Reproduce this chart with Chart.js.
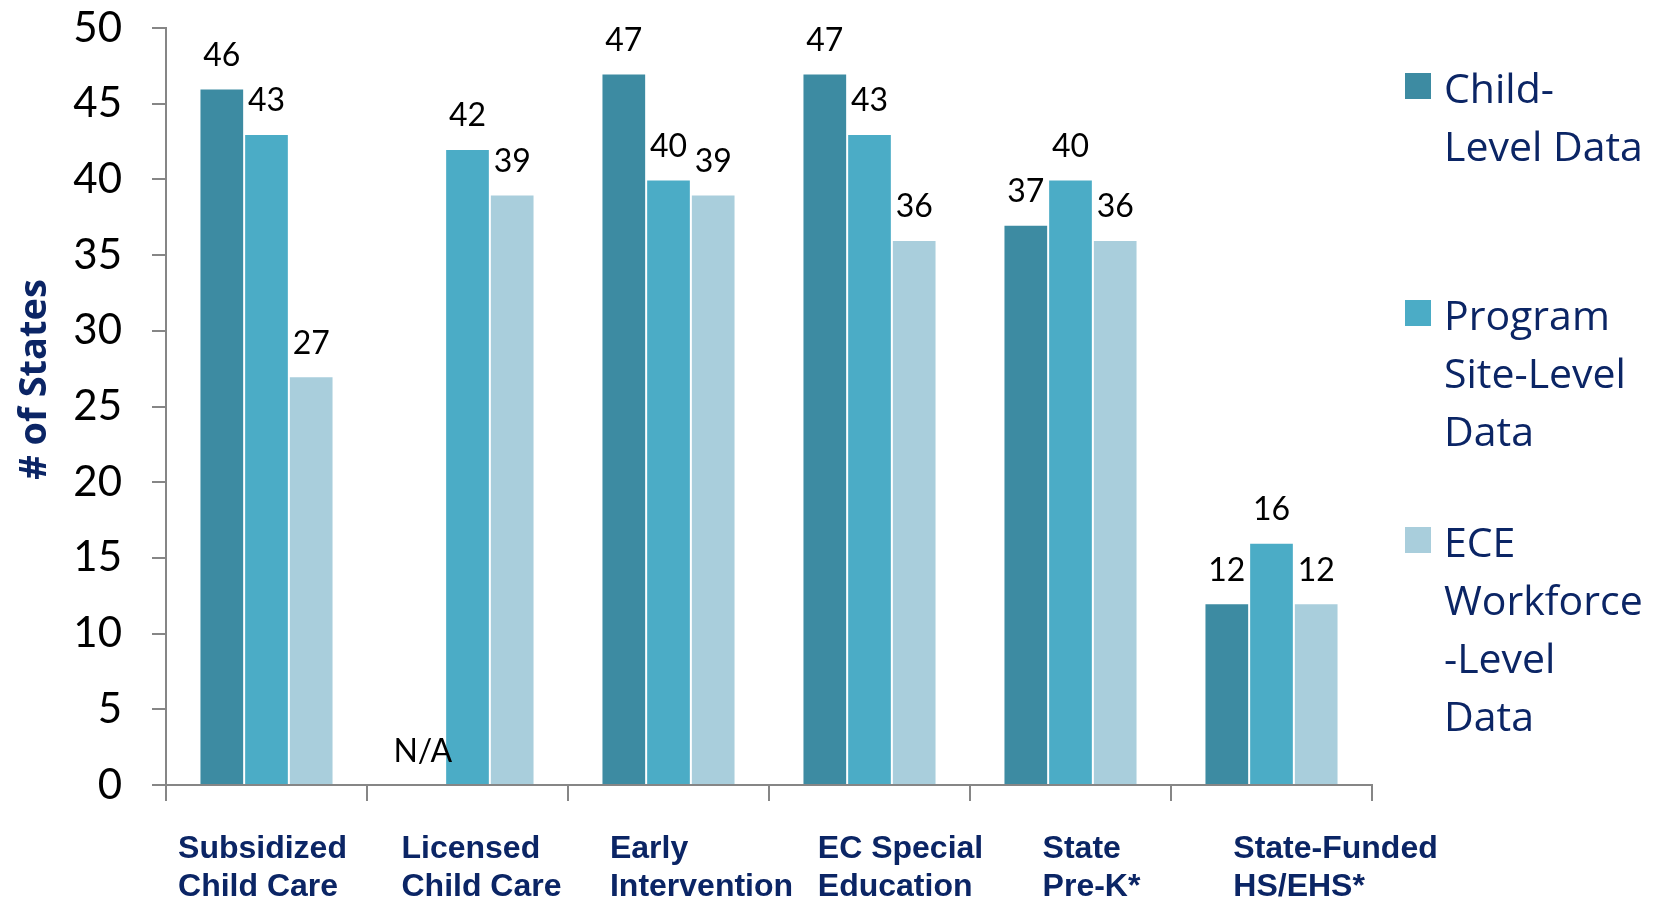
<!DOCTYPE html>
<html>
<head>
<meta charset="utf-8">
<script src="https://cdn.jsdelivr.net/npm/chart.js@4/dist/chart.umd.min.js"></script>
<style>
  body { margin: 0; background: #fff; }
  canvas { display: block; }
</style>
</head>
<body>
<canvas id="chart" width="1666" height="898"></canvas>
<script>
// data
const categories = [
  ["Subsidized", "Child Care"],
  ["Licensed", "Child Care"],
  ["Early", "Intervention"],
  ["EC Special", "Education"],
  ["State", "Pre-K*"],
  ["State-Funded", "HS/EHS*"]
];
const seriesNames = [
  ["Child-", "Level Data"],
  ["Program", "Site-Level", "Data"],
  ["ECE", "Workforce", "-Level", "Data"]
];
const childLevel = [46, null, 47, 47, 37, 12];
const programSite = [43, 42, 40, 43, 40, 16];
const workforce = [27, 39, 39, 36, 36, 12];
const yTicks = [0, 5, 10, 15, 20, 25, 30, 35, 40, 45, 50];
const yTitle = "# of States";
const missingText = "N/A";

const navy = '#0b2565';
const axisGrey = '#868686';
// small nudges so the left-aligned category text sits like the original
const labelShift = [-4, 14, 33, 31, 21, 64];

const valueLabels = {
  id: 'valueLabels',
  afterDatasetsDraw(chart) {
    const ctx = chart.ctx;
    const yScale = chart.scales.y;
    ctx.save();
    ctx.font = '32px Lato';
    ctx.fillStyle = '#000';
    ctx.textAlign = 'center';
    ctx.textBaseline = 'middle';
    chart.data.datasets.forEach((ds, i) => {
      chart.getDatasetMeta(i).data.forEach((bar, j) => {
        const v = ds.data[j];
        const top = v == null ? yScale.getPixelForValue(0) : bar.y;
        ctx.fillText(v == null ? missingText : String(v), bar.x, top - 33);
      });
    });
    ctx.restore();
  }
};

const categoryText = {
  id: 'categoryText',
  afterDraw(chart) {
    const ctx = chart.ctx;
    const xScale = chart.scales.x;
    const bottom = chart.chartArea.bottom;
    ctx.save();
    ctx.font = 'bold 32px "Liberation Sans"';
    ctx.fillStyle = navy;
    ctx.textAlign = 'left';
    ctx.textBaseline = 'alphabetic';
    categories.forEach((lines, i) => {
      const w = Math.max(...lines.map(l => ctx.measureText(l).width));
      const left = xScale.getPixelForValue(i) - w / 2 + labelShift[i];
      lines.forEach((l, k) => ctx.fillText(l, left, bottom + 73 + k * 38));
    });
    // y axis title
    ctx.translate(35, (chart.chartArea.top + bottom) / 2 - 27);
    ctx.rotate(-Math.PI / 2);
    ctx.font = 'bold 38px "Open Sans"';
    ctx.textAlign = 'center';
    ctx.textBaseline = 'middle';
    ctx.fillText(yTitle, 0, 0);
    ctx.restore();
  }
};

const sideLegend = {
  id: 'sideLegend',
  afterDraw(chart) {
    const ctx = chart.ctx;
    const left = chart.chartArea.right + 33;
    ctx.save();
    ctx.font = '41px "Open Sans"';
    ctx.textAlign = 'left';
    ctx.textBaseline = 'alphabetic';
    chart.data.datasets.forEach((ds, i) => {
      const top = chart.chartArea.top + 45 + i * 227;
      ctx.fillStyle = ds.backgroundColor;
      ctx.fillRect(left, top, 26, 26);
      ctx.fillStyle = navy;
      ds.lines.forEach((l, k) => ctx.fillText(l, left + 39, top + 30 + k * 58));
    });
    ctx.restore();
  }
};

new Chart(document.getElementById('chart'), {
  type: 'bar',
  data: {
    labels: categories,
    datasets: [
      { label: seriesNames[0].join(' '), lines: seriesNames[0], data: childLevel, backgroundColor: '#3d8ba2' },
      { label: seriesNames[1].join(' '), lines: seriesNames[1], data: programSite, backgroundColor: '#4bacc6' },
      { label: seriesNames[2].join(' '), lines: seriesNames[2], data: workforce, backgroundColor: '#a9cedc' }
    ]
  },
  options: {
    responsive: false,
    animation: false,
    layout: { padding: { left: 0, right: 294, top: 28, bottom: 0 } },
    plugins: { legend: { display: false }, tooltip: { enabled: false } },
    datasets: { bar: { categoryPercentage: 0.667, barPercentage: 1, borderWidth: 1, borderColor: 'rgba(255,255,255,0.45)' } },
    scales: {
      x: {
        grid: { offset: true, drawOnChartArea: false, tickLength: 16, color: axisGrey, lineWidth: 2 },
        border: { color: axisGrey, width: 2 },
        ticks: { display: false },
        afterFit(scale) { scale.height = 113; scale.paddingLeft = 0; scale.paddingRight = 0; }
      },
      y: {
        min: 0,
        max: 50,
        afterBuildTicks(scale) { scale.ticks = yTicks.map(v => ({ value: v })); },
        grid: { drawOnChartArea: false, tickLength: 14, color: axisGrey, lineWidth: 2 },
        border: { color: axisGrey, width: 2 },
        ticks: { font: { family: 'Lato', size: 42 }, color: '#000', padding: 30 },
        afterFit(scale) { scale.width = 166; scale.paddingTop = 0; scale.paddingBottom = 0; }
      }
    }
  },
  plugins: [valueLabels, categoryText, sideLegend]
});
</script>
</body>
</html>
